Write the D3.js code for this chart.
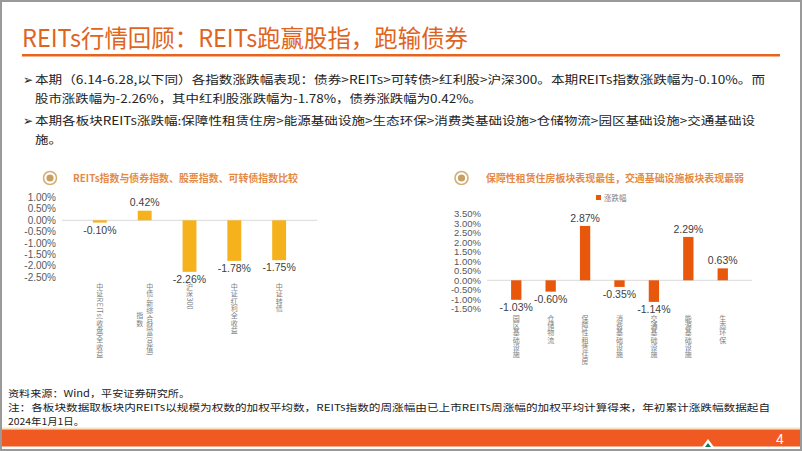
<!DOCTYPE html>
<html>
<head>
<meta charset="utf-8">
<script src="https://cdn.jsdelivr.net/npm/d3@7/dist/d3.min.js"></script>
<style>
  body { margin: 0; background: #fff; }
  svg { display: block; font-family: "Noto Sans CJK SC", "Noto Sans", sans-serif; }
  .tick-lbl { font-family: Arial, "Liberation Sans", sans-serif; fill: #595959; }
  .val-lbl { font-family: Arial, "Liberation Sans", sans-serif; fill: #404040; }
  .cat-lbl { fill: #808080; }
</style>
</head>
<body>
<svg id="page" width="802" height="451"></svg>
<script>
// left chart: index comparison
var indexCats = [["中证REITs(收盘)全收益"], ["中债-新综合财富(总值)", "指数"], ["沪深300"], ["中证红利全收益"], ["中证转债"]];
var indexValues = [-0.10, 0.42, -2.26, -1.78, -1.75];
var indexTicks = [1.0, 0.5, 0.0, -0.5, -1.0, -1.5, -2.0, -2.5];

// right chart: sectors
var sectorCats = ["园区基础设施", "仓储物流", "保障性租赁住房", "消费基础设施", "交通基础设施", "能源基础设施", "生态环保"];
var sectorValues = [-1.03, -0.60, 2.87, -0.35, -1.14, 2.29, 0.63];
var sectorTicks = [3.5, 3.0, 2.5, 2.0, 1.5, 1.0, 0.5, 0.0, -0.5, -1.0, -1.5];

var svg = d3.select("#page");
var fmt = function (v) { return v.toFixed(2) + "%"; };

// page frame
svg.append("rect").attr("x", 1).attr("y", 1).attr("width", 800).attr("height", 449)
    .attr("fill", "none").attr("stroke", "#9a9a9a").attr("stroke-width", 2);

// main title
svg.append("text").attr("x", 22).attr("y", 47).attr("font-size", 24).attr("fill", "#E0641E")
    .attr("textLength", 446).attr("lengthAdjust", "spacingAndGlyphs")
    .text("REITs行情回顾：REITs跑赢股指，跑输债券");
svg.append("rect").attr("x", 22).attr("y", 54).attr("width", 758).attr("height", 2.5).attr("fill", "#E8641E");

// bullets
var bullets = [
    { y: 84, w: 730, t: "本期（6.14-6.28,以下同）各指数涨跌幅表现：债券>REITs>可转债>红利股>沪深300。本期REITs指数涨跌幅为-0.10%。而", b: true },
    { y: 103, w: 447, t: "股市涨跌幅为-2.26%，其中红利股涨跌幅为-1.78%，债券涨跌幅为0.42%。" },
    { y: 125, w: 720, t: "本期各板块REITs涨跌幅:保障性租赁住房>能源基础设施>生态环保>消费类基础设施>仓储物流>园区基础设施>交通基础设", b: true },
    { y: 144, w: 27, t: "施。" }
];
bullets.forEach(function (d) {
    if (d.b) {
        svg.append("text").attr("x", 23).attr("y", d.y).attr("font-size", 12).attr("fill", "#222").text("➢");
    }
    svg.append("text").attr("x", 35).attr("y", d.y).attr("font-size", 11.5).attr("fill", "#222")
        .attr("textLength", d.w).attr("lengthAdjust", "spacingAndGlyphs").text(d.t);
});

function sectionTitle(cx, tx, w, t) {
    svg.append("circle").attr("cx", cx).attr("cy", 178).attr("r", 6.5).attr("fill", "#fff")
        .attr("stroke", "#D2AE78").attr("stroke-width", 1.6);
    svg.append("circle").attr("cx", cx).attr("cy", 178).attr("r", 3.6).attr("fill", "#C9A063");
    svg.append("text").attr("x", tx).attr("y", 181.5).attr("font-size", 10).attr("font-weight", "bold")
        .attr("fill", "#E58A45").attr("textLength", w).attr("lengthAdjust", "spacingAndGlyphs").text(t);
}
sectionTitle(50, 73, 225, "REITs指数与债券指数、股票指数、可转债指数比较");
sectionTitle(461.5, 486, 258, "保障性租赁住房板块表现最佳，交通基础设施板块表现最弱");

// vertical text in one text element: CJK upright, ascii turned sideways
var CH = 7.3;
var ctx = document.createElement("canvas").getContext("2d");
function layoutVertical(str, size) {
    ctx.font = size + "px Arial";
    var xs = [], ys = [], rs = [], y = 0;
    Array.from(str).forEach(function (c) {
        if (/[\x20-\x7e]/.test(c)) {
            xs.push(-size * 0.36); ys.push(y); rs.push(90);
            y += ctx.measureText(c).width;
        } else {
            xs.push(-size / 2); ys.push(y + size * 0.88); rs.push(0);
            y += CH;
        }
    });
    return { xs: xs, ys: ys, rs: rs, len: y };
}
function verticalText(g, cx, top, str, size) {
    var L = layoutVertical(str, size);
    g.append("text").attr("class", "cat-lbl").attr("font-size", size)
        .attr("x", L.xs.map(function (v) { return (cx + v).toFixed(2); }).join(" "))
        .attr("y", L.ys.map(function (v) { return (top + v).toFixed(2); }).join(" "))
        .attr("rotate", L.rs.join(" "))
        .text(str);
    return L.len;
}

function barChart(o) {
    var y = d3.scaleLinear().domain([o.ticks[o.ticks.length - 1], o.ticks[0]]).range([o.y1, o.y0]);
    var x = d3.scaleBand().domain(d3.range(o.values.length)).range([o.x0, o.x1]).padding(o.pad);
    var g = svg.append("g");

    g.selectAll(".tick-lbl").data(o.ticks).enter().append("text").attr("class", "tick-lbl")
        .attr("x", o.x0 - 6).attr("y", function (d) { return y(d); }).attr("dy", "0.35em")
        .attr("text-anchor", "end").attr("font-size", o.tickSize).text(fmt);

    g.append("line").attr("x1", o.x0).attr("x2", o.x1).attr("y1", y(0)).attr("y2", y(0))
        .attr("stroke", "#d9d9d9").attr("stroke-width", 1);

    g.selectAll(".bar").data(o.values).enter().append("rect").attr("class", "bar")
        .attr("x", function (d, i) { return x(i); }).attr("width", x.bandwidth())
        .attr("y", function (d) { return y(Math.max(0, d)); })
        .attr("height", function (d) { return Math.abs(y(d) - y(0)); })
        .attr("fill", o.color);

    g.selectAll(".val-lbl").data(o.values).enter().append("text").attr("class", "val-lbl")
        .attr("x", function (d, i) { return x(i) + x.bandwidth() / 2; })
        .attr("y", function (d) { return d >= 0 ? y(d) - 8 : y(d) + 7.5; }).attr("dy", "0.35em")
        .attr("text-anchor", "middle").attr("font-size", o.valSize).text(fmt);

    o.cats.forEach(function (lines, i) {
        if (typeof lines === "string") lines = [lines];
        var cx = x(i) + x.bandwidth() / 2 + (lines.length - 1) * 5;
        var len = verticalText(g, cx, o.catTop, lines[0], o.catSize);
        for (var k = 1; k < lines.length; k++) {
            var l2 = layoutVertical(lines[k], o.catSize).len;
            verticalText(g, cx - k * 10, o.catTop + (len - l2) / 2, lines[k], o.catSize);
        }
    });
}

barChart({
    cats: indexCats, values: indexValues, ticks: indexTicks, color: "#F5B21C",
    x0: 62, x1: 317, y0: 197.5, y1: 277.3, pad: 0.69,
    tickSize: 10, valSize: 10.5, catTop: 283, catSize: 7
});

barChart({
    cats: sectorCats, values: sectorValues, ticks: sectorTicks, color: "#E8580C",
    x0: 487, x1: 752, y0: 214, y1: 308.7, pad: 0.7,
    tickSize: 9.5, valSize: 10.5, catTop: 314.5, catSize: 7
});

// legend of right chart
svg.append("rect").attr("x", 596).attr("y", 195).attr("width", 5).attr("height", 5).attr("fill", "#E8580C");
svg.append("text").attr("x", 604).attr("y", 200.5).attr("font-size", 7.5).attr("fill", "#7f7f7f").text("涨跌幅");

// notes
var notes = [
    { y: 397, w: 182, t: "资料来源：Wind，平安证券研究所。" },
    { y: 411, w: 762, t: "注：各板块数据取板块内REITs以规模为权数的加权平均数，REITs指数的周涨幅由已上市REITs周涨幅的加权平均计算得来，年初累计涨跌幅数据起自" },
    { y: 425, w: 76, t: "2024年1月1日。" }
];
notes.forEach(function (d) {
    svg.append("text").attr("x", 8).attr("y", d.y).attr("font-size", 9.6).attr("fill", "#222")
        .attr("textLength", d.w).attr("lengthAdjust", "spacingAndGlyphs").text(d.t);
});

// bottom bar
svg.append("rect").attr("x", 2).attr("y", 427.5).attr("width", 798).attr("height", 2).attr("fill", "#F6E3C4");
svg.append("rect").attr("x", 2).attr("y", 429.5).attr("width", 798).attr("height", 17).attr("fill", "#F05A22");
svg.append("path").attr("d", "M702,447 L708,439 L714,447 Z").attr("fill", "#fff");
svg.append("path").attr("d", "M705,447 L708,443 L711,447 Z").attr("fill", "#0F7A5A");
svg.append("text").attr("x", 776).attr("y", 443.5).attr("font-size", 14).attr("fill", "#fff")
    .attr("font-family", "Arial, sans-serif").text("4");
</script>
</body>
</html>
